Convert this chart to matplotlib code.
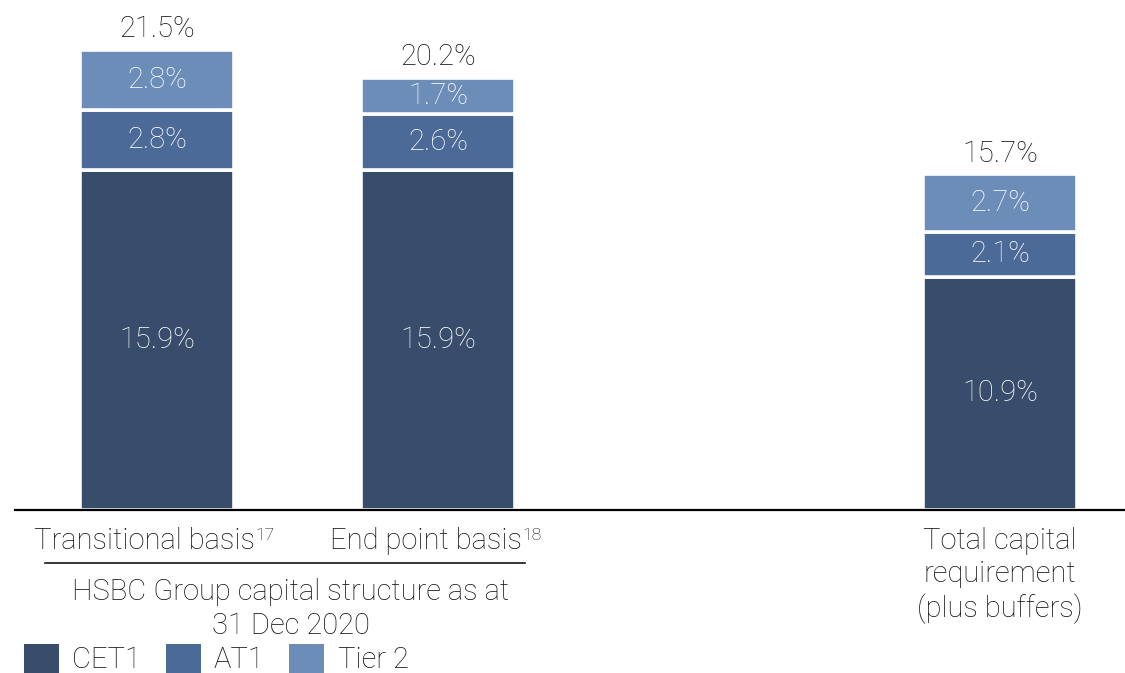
import matplotlib
matplotlib.use("Agg")
import matplotlib.pyplot as plt
from matplotlib.patches import Patch
from matplotlib.lines import Line2D
import numpy as np

# Capital structure data (% of RWAs)
categories = ["Transitional basis", "End point basis", "", "Total capital\nrequirement\n(plus buffers)"]
footnotes = ["17", "18", "", ""]
cet1 = [15.9, 15.9, np.nan, 10.9]
at1 = [2.8, 2.6, np.nan, 2.1]
tier2 = [2.8, 1.7, np.nan, 2.7]
totals = [21.5, 20.2, np.nan, 15.7]
series_names = ["CET1", "AT1", "Tier 2"]
colors = ["#384d6c", "#4b6a97", "#6c8db8"]
group_caption = "HSBC Group capital structure as at\n31 Dec 2020"

plt.rcParams["font.family"] = ["Roboto", "DejaVu Sans"]
FS = 21
WEIGHT = "light"
TXT = "#111111"
W, H = 1125, 673
PT = 100 / 72  # pixels per point at 100 dpi
fig = plt.figure(figsize=(W / 100, H / 100), dpi=100)

# axes geometry in pixels
left_px, base_px = 15, 510
slot_px, first_center_px, bar_px = 281, 157, 154
px_per_pct = 21.4
ax = fig.add_axes([left_px / W, (H - base_px) / H, (W - left_px) / W, base_px / H])
ax.set_xlim((left_px - first_center_px) / slot_px, (W - first_center_px) / slot_px)
ax.set_ylim(0, base_px / px_per_pct)

x = np.arange(len(categories))
width = bar_px / slot_px
bottom = np.zeros(len(categories))
for vals, col in zip([cet1, at1, tier2], colors):
    v = np.array(vals, dtype=float)
    ax.bar(x, v, width, bottom=bottom, color=col, edgecolor="white", linewidth=2.6, zorder=2)
    for xi, b, h in zip(x, bottom, v):
        if np.isnan(h):
            continue
        ax.text(xi, b + h / 2, f"{h:.1f}%", ha="center", va="center", color="white",
                fontsize=FS, fontweight=WEIGHT)
    bottom = bottom + np.nan_to_num(v)

for xi, t in zip(x, totals):
    if np.isnan(t):
        continue
    ax.annotate(f"{t:.1f}%", xy=(xi, t), xytext=(0, 9), textcoords="offset points",
                ha="center", va="baseline", fontsize=FS, fontweight=WEIGHT, color=TXT)

for s in ["top", "right", "left"]:
    ax.spines[s].set_visible(False)
ax.spines["bottom"].set_linewidth(1.6)
ax.spines["bottom"].set_color("black")
ax.set_xticks([])
ax.set_yticks([])

# category labels with footnote superscripts
for xi, lab, fn in zip(x, categories, footnotes):
    if not lab:
        continue
    shift = -9 if fn else 0
    t = ax.annotate(lab, xy=(xi, 0), xycoords="data", xytext=(shift, -17 / PT),
                    textcoords="offset points", ha="center", va="top",
                    fontsize=FS, fontweight=WEIGHT, color=TXT, linespacing=1.24,
                    annotation_clip=False)
    if fn:
        ax.annotate(fn, xy=(1, 1), xycoords=t, xytext=(0.5, -0.5), textcoords="offset points",
                    ha="left", va="top", fontsize=FS * 0.6, fontweight=WEIGHT, color=TXT)

# group bracket line and caption
fig.add_artist(Line2D([45 / W, 525 / W], [(H - 563) / H] * 2, color="black", linewidth=1.1))
fig.text(291 / W, (H - 609) / H, group_caption, ha="center", va="center", fontsize=FS,
         fontweight=WEIGHT, color=TXT, linespacing=1.24)

handles = [Patch(facecolor=c, edgecolor="none") for c in colors]
leg = fig.legend(handles, series_names, loc="center left", bbox_to_anchor=(24 / W, (H - 659) / H),
                 ncol=3, frameon=False, fontsize=FS, handlelength=1.2, handleheight=1.15,
                 handletextpad=0.45, columnspacing=0.85, borderpad=0, borderaxespad=0)
for txt in leg.get_texts():
    txt.set_fontweight(WEIGHT)
    txt.set_color(TXT)

fig.savefig("out.png", dpi=100, facecolor="white")
